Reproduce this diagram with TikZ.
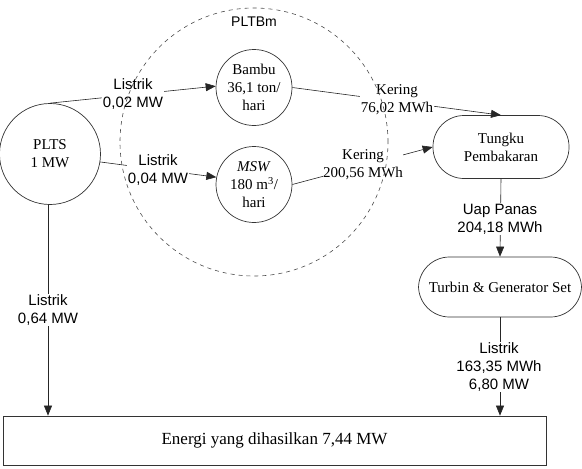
\documentclass[tikz,border=0pt]{standalone}
\usepackage{fontspec}
\setmainfont{Liberation Serif}
\setsansfont{Liberation Sans}
\usetikzlibrary{arrows.meta}
\begin{document}
\begin{tikzpicture}[x=1pt,y=-1pt,
  every node/.style={font=\fontsize{15}{18}\selectfont},
  circ/.style={draw=black!80,line width=0.7pt,circle,inner sep=0pt,align=center},
  stadium/.style={draw=black!80,line width=0.7pt,rectangle,rounded corners=31pt,align=center,inner sep=0pt},
  lbl/.style={fill=white,inner sep=0.5pt,align=center,font=\fontsize{15}{18}\sffamily\selectfont},
  slbl/.style={fill=white,inner sep=0.5pt,align=center,font=\fontsize{15}{18}\selectfont},
  conn/.style={draw=black!85,line width=0.6pt},
  arr/.style={conn,-{Triangle[length=10pt,width=8pt]}}]
\useasboundingbox (0,0) rectangle (582,469);

\node[circ,minimum size=101pt] (plts) at (50,154) {PLTS\\1 MW};
\node[circ,minimum size=76pt] (bambu) at (254,87.5) {Bambu\\36,1 ton/\\hari};
\node[circ,minimum size=76pt] (msw) at (254,184.5) {\textit{MSW}\\180 m\textsuperscript{3}/\\hari};
\node[stadium,minimum width=136pt,minimum height=63pt] (tungku) at (501,147) {Tungku\\Pembakaran};
\node[stadium,minimum width=163pt,minimum height=60pt] (turbin) at (500,287) {Turbin \& Generator Set};
\node[draw=black!80,line width=0.7pt,rectangle,minimum width=543pt,minimum height=49pt,inner sep=0pt,font=\fontsize{17}{20}\selectfont] (energi) at (274.5,440.5) {Energi yang dihasilkan 7,44 MW};

\draw[arr] (plts.north) -- (bambu.178);
\draw[arr] (plts.-9) -- (msw.169);
\draw[arr] (bambu.east) -- (tungku.north);
\draw[arr] (msw.east) -- (tungku.west);
\draw[arr] (tungku.south) -- (turbin.north);
\draw[arr] (turbin.south) -- (turbin.south |- energi.north);
\draw[arr] ([xshift=-2pt]plts.south) -- ([xshift=-2pt]plts.south |- energi.north);

\node[lbl] (l1) at (133,94) {Listrik\\0,02 MW};
\node[lbl] (l2) at (158,170.5) {Listrik\\0,04 MW};
\node[slbl] (l3) at (397,100) {Kering\\76,02 MWh};
\node[slbl] (l4) at (363,165) {Kering\\200,56 MWh};
\node[lbl] (l5) at (500,219) {Uap Panas\\204,18 MWh};
\node[lbl] (l6) at (499,367) {Listrik\\163,35 MWh\\6,80 MW};
\node[lbl] (l7) at (48,310) {Listrik\\0,64 MW};

\node[circle,draw=black!70,line width=0.6pt,dash pattern=on 4pt off 4pt,minimum size=268pt,inner sep=0pt] (pltbm) at (254,142) {};
\node[font=\fontsize{14}{16}\sffamily\selectfont,inner sep=0pt] (pltbmlbl) at (254,22) {PLTBm};
\end{tikzpicture}
\end{document}
